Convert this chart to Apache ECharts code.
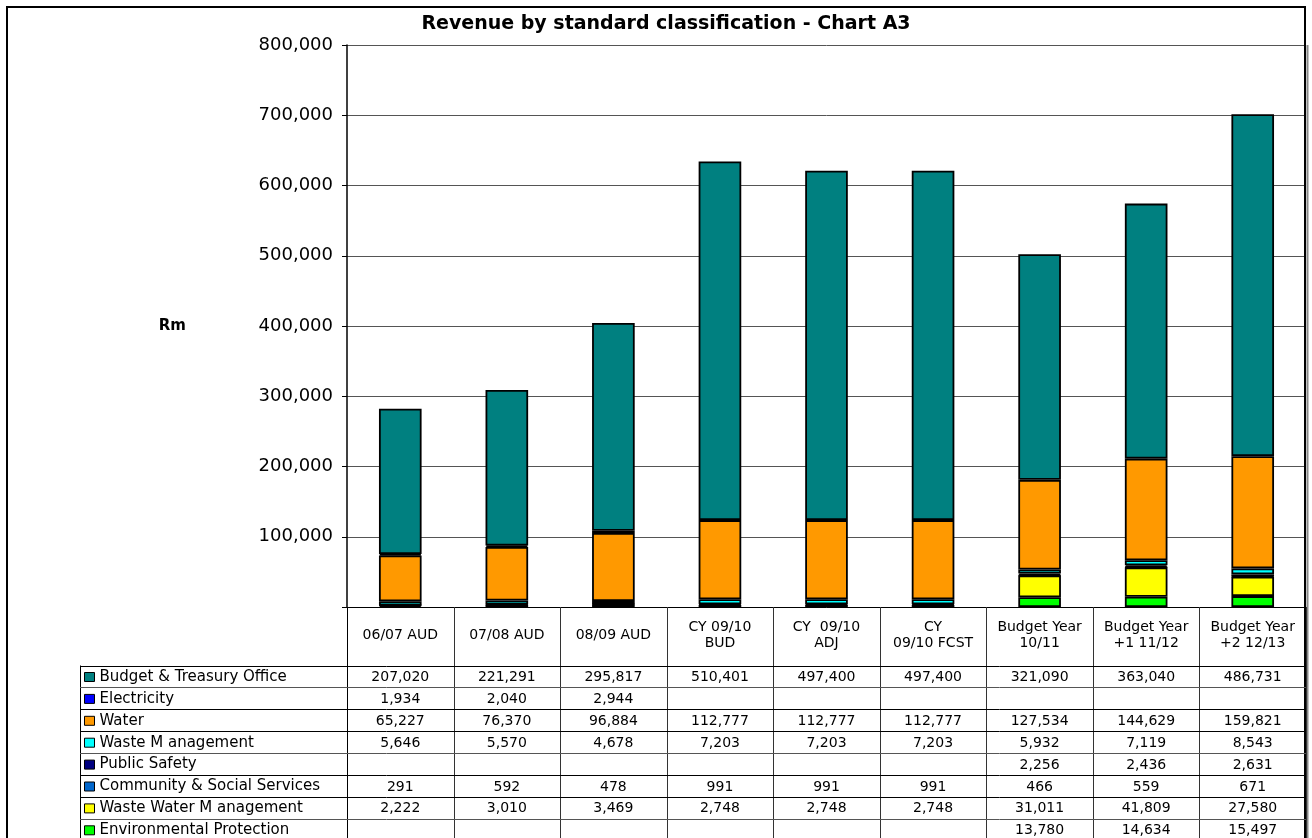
<!DOCTYPE html>
<html>
<head>
<meta charset="utf-8">
<script src="https://cdn.jsdelivr.net/npm/echarts@6/dist/echarts.min.js"></script>
<style>
  html, body { margin: 0; padding: 0; background: #fff; }
  #chart { width: 1312px; height: 838px; }
</style>
</head>
<body>
<div id="chart"></div>
<script>
// Column headings (also used as x-axis categories)
const categories = [
  '06/07 AUD', '07/08 AUD', '08/09 AUD',
  'CY 09/10\nBUD', 'CY  09/10\nADJ', 'CY\n09/10 FCST',
  'Budget Year\n10/11', 'Budget Year\n+1 11/12', 'Budget Year\n+2 12/13'
];

// Revenue per classification (R thousand)
const budgetTreasury   = [207020, 221291, 295817, 510401, 497400, 497400, 321090, 363040, 486731];
const electricity      = [1934, 2040, 2944, null, null, null, null, null, null];
const water            = [65227, 76370, 96884, 112777, 112777, 112777, 127534, 144629, 159821];
const wasteManagement  = [5646, 5570, 4678, 7203, 7203, 7203, 5932, 7119, 8543];
const publicSafety     = [null, null, null, null, null, null, 2256, 2436, 2631];
const community        = [291, 592, 478, 991, 991, 991, 466, 559, 671];
const wasteWater       = [2222, 3010, 3469, 2748, 2748, 2748, 31011, 41809, 27580];
const environmental    = [null, null, null, null, null, null, 13780, 14634, 15497];

// Y-axis scale
const yMin = 0, yMax = 800000, yStep = 100000;

// Table rows, top to bottom (stack order is the reverse)
const rows = [
  { name: 'Budget & Treasury Office',      data: budgetTreasury,  color: '#008080' },
  { name: 'Electricity',                   data: electricity,     color: '#0000FF' },
  { name: 'Water',                         data: water,           color: '#FF9900' },
  { name: 'Waste M anagement',             data: wasteManagement, color: '#00FFFF' },
  { name: 'Public Safety',                 data: publicSafety,    color: '#000080' },
  { name: 'Community & Social Services',   data: community,       color: '#0066CC' },
  { name: 'Waste Water M anagement',       data: wasteWater,      color: '#FFFF00' },
  { name: 'Environmental Protection',      data: environmental,   color: '#00FF00' }
];

const FONT = 'DejaVu Sans';
const fmt = v => (v == null ? '' : v.toLocaleString('en-US'));

// Layout
const gridLeft = 347, gridRight = 1306, gridTop = 45, gridBottom = 607;
const tableTop = 665.5, rowH = 21.9, legendColLeft = 80;

const series = rows.slice().reverse().map(r => ({
  name: r.name,
  type: 'bar',
  stack: 'total',
  barWidth: '40%',
  data: r.data,
  itemStyle: { color: r.color, borderColor: '#000', borderWidth: 1.8 },
  emphasis: { disabled: true }
}));

const chart = echarts.init(document.getElementById('chart'), null, { renderer: 'canvas' });

chart.setOption({
  animation: false,
  backgroundColor: '#fff',
  title: {
    text: 'Revenue by standard classification - Chart A3',
    left: 661, textAlign: 'center', top: 10,
    textStyle: { fontFamily: FONT, fontSize: 19, fontWeight: 'bold', color: '#000' }
  },
  grid: {
    left: gridLeft, right: 1312 - gridRight, top: gridTop, bottom: 838 - gridBottom,
    containLabel: false
  },
  legend: {
    orient: 'vertical',
    left: 84, top: tableTop + 4,
    height: 200,
    padding: 0,
    itemWidth: 10, itemHeight: 9,
    itemGap: rowH - 15,
    icon: 'rect',
    selectedMode: false,
    data: rows.map(r => r.name),
    itemStyle: { borderColor: '#000', borderWidth: 1 },
    textStyle: { fontFamily: FONT, fontSize: 15, color: '#000', lineHeight: 15 }
  },
  xAxis: {
    type: 'category',
    data: categories,
    axisLine: { show: true, lineStyle: { color: '#000', width: 1 } },
    axisTick: { show: false },
    axisLabel: {
      interval: 0, margin: 28, verticalAlign: 'middle',
      fontFamily: FONT, fontSize: 14, lineHeight: 16, color: '#000', align: 'center'
    },
    splitLine: { show: false }
  },
  yAxis: {
    type: 'value',
    min: yMin, max: yMax, interval: yStep,
    name: 'Rm',
    nameLocation: 'middle',
    nameRotate: 0,
    nameGap: 161,
    nameTextStyle: { fontFamily: FONT, fontSize: 15, fontWeight: 'bold', color: '#000' },
    axisLine: { show: true, lineStyle: { color: '#000', width: 1.5 } },
    axisTick: { show: true, inside: false, length: 5, lineStyle: { color: '#000' } },
    axisLabel: {
      margin: 14, fontFamily: FONT, fontSize: 18, color: '#000',
      formatter: v => (v === 0 ? '' : fmt(v))
    },
    splitLine: { show: true, lineStyle: { color: '#555', width: 1 } }
  },
  series: series
});

// Data table drawn underneath the plot, aligned with the category bands
function drawTable() {
  const c0 = chart.convertToPixel({ xAxisIndex: 0 }, categories[0]);
  const c1 = chart.convertToPixel({ xAxisIndex: 0 }, categories[1]);
  const band = c1 - c0;
  const first = c0 - band / 2;
  const last = first + band * categories.length;
  const bottom = 845;
  const els = [];
  const line = (x1, y1, x2, y2, color, w) => els.push({
    type: 'line', silent: true, z: 10,
    shape: { x1, y1, x2, y2 },
    style: { stroke: color || '#000', lineWidth: w || 1 }
  });

  // outer frame of the whole figure
  els.push({ type: 'rect', silent: true, z: 0,
    shape: { x: 7, y: 7, width: 1298, height: 850 },
    style: { fill: 'none', stroke: '#000', lineWidth: 2 } });
  // right edge of the plot / table
  line(last + 1.5, gridTop, last + 1.5, bottom, '#888', 2);

  // vertical column separators below the axis
  for (let i = 0; i <= categories.length; i++) {
    const x = Math.round(first + band * i) + 0.5;
    line(x, gridBottom, x, bottom, i === 0 ? '#000' : '#333', 1);
  }
  // legend column left border
  line(legendColLeft + 0.5, tableTop, legendColLeft + 0.5, bottom, '#000', 1);

  // horizontal row lines
  for (let r = 0; r <= rows.length; r++) {
    const y = Math.round(tableTop + rowH * r) + 0.5;
    line(legendColLeft, y, last, y, r % 3 === 1 ? '#555' : '#000', 1);
  }

  // cell values
  rows.forEach((row, r) => {
    const y = tableTop + rowH * r + rowH / 2 + 1;
    row.data.forEach((v, i) => {
      if (v == null) return;
      els.push({
        type: 'text', silent: true, z: 11,
        x: first + band * (i + 0.5), y: y,
        style: {
          text: fmt(v), fill: '#000',
          font: '14px "' + FONT + '"',
          align: 'center', verticalAlign: 'middle'
        }
      });
    });
  });

  chart.setOption({ graphic: { elements: els } });
}
drawTable();
</script>
</body>
</html>
